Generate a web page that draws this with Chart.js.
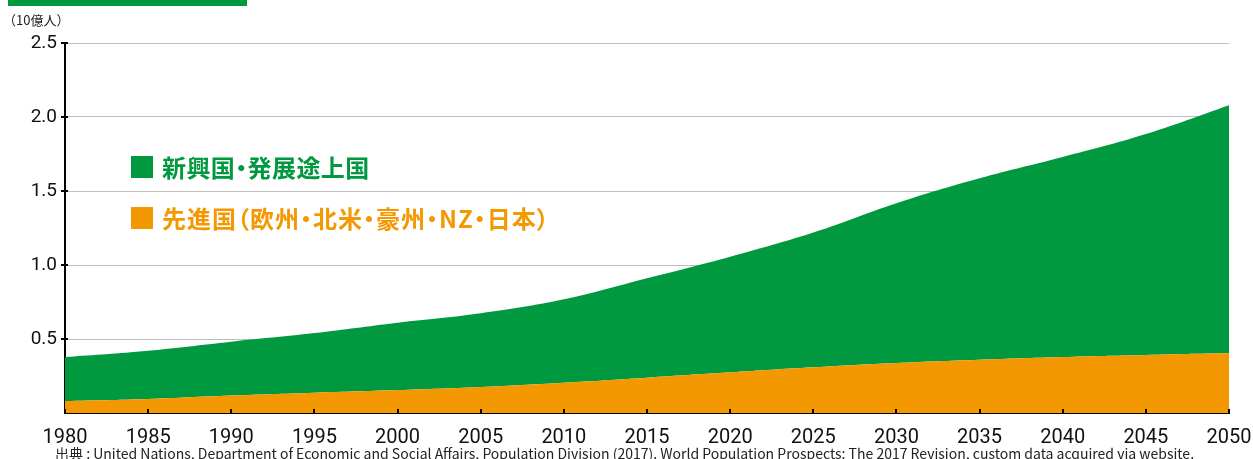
<!DOCTYPE html>
<html lang="ja">
<head>
<meta charset="utf-8">
<script src="https://cdn.jsdelivr.net/npm/chart.js@4"></script>
<style>
  body { margin: 0; background: #fff; }
  #wrap { position: relative; width: 1253px; height: 459px; overflow: hidden; font-family: "Noto Sans CJK JP", sans-serif; }
  #topbar { position: absolute; left: 8px; top: 0; width: 239px; height: 6px; background: #00993f; }
  #unit { position: absolute; left: 3px; top: 10px; font-size: 13px; color: #222; }
  .leg { position: absolute; left: 131px; font-size: 24px; font-weight: 700; display: flex; align-items: center; white-space: nowrap; font-feature-settings: "palt"; }
  .leg i { display: inline-block; width: 22px; height: 22px; margin-right: 9px; }
  #note { position: absolute; left: 55px; top: 443px; font-size: 14px; color: #222; white-space: nowrap; }
</style>
</head>
<body>
<div id="wrap">
  <canvas id="chart" width="1253" height="459"></canvas>
  <div id="topbar"></div>
  <div id="unit">（10億人）</div>
  <div class="leg" style="top:149px;color:#00993f;letter-spacing:0.4px"><i style="background:#00993f"></i>新興国・発展途上国</div>
  <div class="leg" style="top:200px;color:#f39800;letter-spacing:1px"><i style="background:#f39800"></i>先進国（欧州・北米・豪州・NZ・日本）</div>
  <div id="note">出典 : United Nations, Department of Economic and Social Affairs, Population Division (2017). World Population Prospects: The 2017 Revision, custom data acquired via website.</div>
</div>
<script>
const years = ['1980', '1985', '1990', '1995', '2000', '2005', '2010', '2015',
  '2020', '2025', '2030', '2035', '2040', '2045', '2050'];

// 10億人
const developed = [0.081, 0.095, 0.118, 0.137, 0.155, 0.176, 0.205, 0.239,
  0.275, 0.309, 0.338, 0.360, 0.378, 0.392, 0.405];
const developing = [0.297, 0.326, 0.364, 0.403, 0.455, 0.498, 0.563, 0.671,
  0.781, 0.910, 1.079, 1.226, 1.352, 1.493, 1.675];

const yTicks = [0.5, 1.0, 1.5, 2.0, 2.5];

const green = '#00993f';
const orange = '#f39800';
const tickFont = '"Liberation Sans Narrow", Roboto, sans-serif';

// black tick marks crossing the axes
const axisTicks = {
  id: 'axisTicks',
  afterDatasetsDraw(chart) {
    const { ctx, chartArea, scales } = chart;
    ctx.save();
    ctx.strokeStyle = '#000';
    ctx.lineWidth = 2;
    yTicks.forEach(v => {
      const y = Math.round(scales.y.getPixelForValue(v));
      ctx.beginPath();
      ctx.moveTo(chartArea.left - 4, y);
      ctx.lineTo(chartArea.left + 3, y);
      ctx.stroke();
    });
    years.forEach((_, i) => {
      const x = Math.round(scales.x.getPixelForValue(i));
      ctx.beginPath();
      ctx.moveTo(x, chartArea.bottom - 4);
      ctx.lineTo(x, chartArea.bottom + 1);
      ctx.stroke();
    });
    ctx.restore();
  }
};

new Chart(document.getElementById('chart'), {
  type: 'line',
  data: {
    labels: years,
    datasets: [
      {
        label: '先進国（欧州・北米・豪州・NZ・日本）',
        data: developed,
        backgroundColor: orange,
        borderWidth: 0,
        pointRadius: 0,
        fill: 'origin',
        tension: 0.4
      },
      {
        label: '新興国・発展途上国',
        data: developing,
        backgroundColor: green,
        borderWidth: 0,
        pointRadius: 0,
        fill: '-1',
        tension: 0.4
      }
    ]
  },
  options: {
    responsive: false,
    animation: false,
    layout: { padding: { top: 43, right: 24, left: 0, bottom: 0 } },
    plugins: { legend: { display: false }, tooltip: { enabled: false } },
    scales: {
      x: {
        offset: false,
        grid: { display: false },
        border: { display: true, color: '#000', width: 2 },
        ticks: { color: '#111', font: { family: tickFont, size: 20 }, padding: 5, maxRotation: 0, autoSkip: false },
        afterFit: s => { s.height = 46; s.paddingLeft = 0; s.paddingRight = 0; }
      },
      y: {
        stacked: true,
        min: 0,
        max: 2.5,
        grid: { color: '#bdbdbd', lineWidth: 1, drawTicks: false },
        border: { display: true, color: '#000', width: 2 },
        ticks: {
          stepSize: 0.5,
          color: '#111',
          padding: 8,
          font: { family: tickFont, size: 19 },
          callback: v => (v === 0 ? '' : v.toFixed(1))
        },
        afterFit: s => { s.width = 65; }
      }
    }
  },
  plugins: [axisTicks]
});
</script>
</body>
</html>
